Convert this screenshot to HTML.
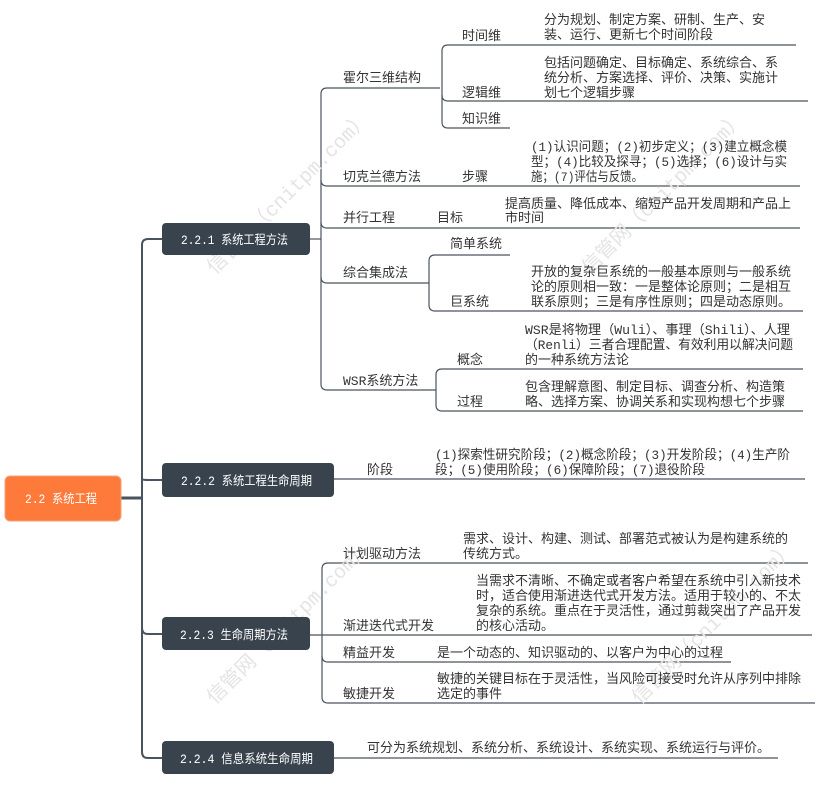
<!DOCTYPE html>
<html><head><meta charset="utf-8"><style>
html,body{margin:0;padding:0;background:#fff;}
svg{display:block;}
text{font-family:"Liberation Mono","Noto Sans CJK SC",monospace;font-size:13px;fill:#333;}
.w{fill:#fff;font-size:12.5px;}
.wm{fill:#e4e4e4;font-size:20px;}
</style></head><body>
<svg width="816" height="793" viewBox="0 0 816 793" xmlns="http://www.w3.org/2000/svg">
<g fill="none" stroke="#4a545e" stroke-width="1.2">
<path d="M121 498 H142" stroke-width="3"/>
<path d="M162 239 H148 Q142 239 142 245 V752 Q142 758 148 758 H162" stroke-width="2"/>
<path d="M142 479 Q142 480 148 480 H162" stroke-width="2"/>
<path d="M142 628 Q142 634 148 634 H162" stroke-width="2"/>
<path d="M310 239 H321"/>
<path d="M440 88 H327 Q321 88 321 94 V384 Q321 390 327 390 H436"/>
<path d="M321 180 Q321 186 327 186 H800"/>
<path d="M321 222 Q321 228 327 228 H800"/>
<path d="M321 277 Q321 283 327 283 H429"/>
<path d="M796 45 H448 Q442 45 442 51 V122 Q442 128 448 128 H510"/>
<path d="M442 95 Q442 101 448 101 H808"/>
<path d="M510 255 H435 Q429 255 429 261 V305 Q429 311 435 311 H803"/>
<path d="M803 369 H442 Q436 369 436 375 V405 Q436 411 442 411 H803"/>
<path d="M334 479 H805"/>
<path d="M808 563 H328 Q322 563 322 569 V697 Q322 703 328 703 H815"/>
<path d="M310 635 H812"/>
<path d="M322 656 Q322 662 328 662 H731"/>
<path d="M334 758 H778"/>
</g>
<text class="wm" transform="translate(215,275) rotate(-45)">信管网（cnitpm.com）</text>
<text class="wm" transform="translate(590,275) rotate(-45)">信管网（cnitpm.com）</text>
<text class="wm" transform="translate(215,705) rotate(-45)">信管网（cnitpm.com）</text>
<text class="wm" transform="translate(640,705) rotate(-45)">信管网（cnitpm.com）</text>
<rect x="5" y="476" width="116" height="45" rx="5" fill="#fe7a3b" stroke="#f5a27a"/>
<text class="w" x="25" y="503" textLength="72" lengthAdjust="spacingAndGlyphs">2.2 系统工程</text>
<rect x="162" y="223" width="148" height="32" rx="4" fill="#38434d"/>
<text class="w" x="181" y="244" textLength="107" lengthAdjust="spacingAndGlyphs">2.2.1 系统工程方法</text>
<rect x="162" y="463" width="172" height="34" rx="4" fill="#38434d"/>
<text class="w" x="181" y="485" textLength="131" lengthAdjust="spacingAndGlyphs">2.2.2 系统工程生命周期</text>
<rect x="162" y="617" width="148" height="33" rx="4" fill="#38434d"/>
<text class="w" x="180" y="639" textLength="108" lengthAdjust="spacingAndGlyphs">2.2.3 生命周期方法</text>
<rect x="162" y="741" width="172" height="33" rx="4" fill="#38434d"/>
<text class="w" x="180" y="763" textLength="133" lengthAdjust="spacingAndGlyphs">2.2.4 信息系统生命周期</text>
<text x="343" y="82">霍尔三维结构</text>
<text x="462" y="40">时间维</text>
<text x="544" y="24">分为规划、制定方案、研制、生产、安</text>
<text x="544" y="39">装、运行、更新七个时间阶段</text>
<text x="462" y="97">逻辑维</text>
<text x="544" y="67">包括问题确定、目标确定、系统综合、系</text>
<text x="544" y="82">统分析、方案选择、评价、决策、实施计</text>
<text x="544" y="97">划七个逻辑步骤</text>
<text x="462" y="123">知识维</text>
<text x="343" y="181">切克兰德方法</text>
<text x="462" y="181">步骤</text>
<text x="531" y="151" textLength="256" lengthAdjust="spacingAndGlyphs">(1)认识问题；(2)初步定义；(3)建立概念模</text>
<text x="531" y="166" textLength="256" lengthAdjust="spacingAndGlyphs">型；(4)比较及探寻；(5)选择；(6)设计与实</text>
<text x="531" y="181" textLength="112" lengthAdjust="spacingAndGlyphs">施；(7)评估与反馈。</text>
<text x="343" y="222">并行工程</text>
<text x="437" y="222">目标</text>
<text x="505" y="208">提高质量、降低成本、缩短产品开发周期和产品上</text>
<text x="505" y="222">市时间</text>
<text x="343" y="277">综合集成法</text>
<text x="450" y="248">简单系统</text>
<text x="450" y="306">巨系统</text>
<text x="531" y="276">开放的复杂巨系统的一般基本原则与一般系统</text>
<text x="531" y="291">论的原则相一致：一是整体论原则；二是相互</text>
<text x="531" y="306">联系原则；三是有序性原则；四是动态原则。</text>
<text x="343" y="385">WSR系统方法</text>
<text x="457" y="364">概念</text>
<text x="525" y="334" textLength="265" lengthAdjust="spacingAndGlyphs">WSR是将物理（Wuli）、事理（Shili）、人理</text>
<text x="525" y="349" textLength="268" lengthAdjust="spacingAndGlyphs">（Renli）三者合理配置、有效利用以解决问题</text>
<text x="525" y="364">的一种系统方法论</text>
<text x="457" y="406">过程</text>
<text x="525" y="391">包含理解意图、制定目标、调查分析、构造策</text>
<text x="525" y="406">略、选择方案、协调关系和实现构想七个步骤</text>
<text x="367" y="474">阶段</text>
<text x="435" y="459" textLength="355" lengthAdjust="spacingAndGlyphs">(1)探索性研究阶段；(2)概念阶段；(3)开发阶段；(4)生产阶</text>
<text x="435" y="474" textLength="270" lengthAdjust="spacingAndGlyphs">段；(5)使用阶段；(6)保障阶段；(7)退役阶段</text>
<text x="343" y="558">计划驱动方法</text>
<text x="463" y="543">需求、设计、构建、测试、部署范式被认为是构建系统的</text>
<text x="463" y="558">传统方式。</text>
<text x="343" y="630">渐进迭代式开发</text>
<text x="476" y="585">当需求不清晰、不确定或者客户希望在系统中引入新技术</text>
<text x="476" y="600">时，适合使用渐进迭代式开发方法。适用于较小的、不太</text>
<text x="476" y="615">复杂的系统。重点在于灵活性，通过剪裁突出了产品开发</text>
<text x="476" y="630">的核心活动。</text>
<text x="343" y="657">精益开发</text>
<text x="437" y="657">是一个动态的、知识驱动的、以客户为中心的过程</text>
<text x="343" y="698">敏捷开发</text>
<text x="437" y="683">敏捷的关键目标在于灵活性，当风险可接受时允许从序列中排除</text>
<text x="437" y="698">选定的事件</text>
<text x="367" y="752">可分为系统规划、系统分析、系统设计、系统实现、系统运行与评价。</text>
</svg>
</body></html>
